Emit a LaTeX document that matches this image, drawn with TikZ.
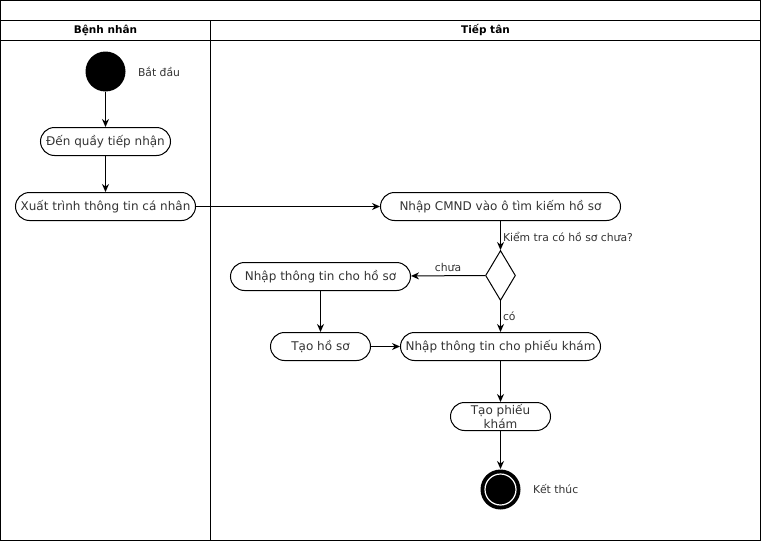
\documentclass[tikz,border=0pt]{standalone}
\usepackage{fontspec}
\setmainfont{DejaVu Sans}
\usepackage{tikz}
\usetikzlibrary{arrows.meta,positioning,shapes.geometric}
\definecolor{LaneLine}{HTML}{000000}
\definecolor{LaneText}{HTML}{333333}

\begin{document}
\begin{tikzpicture}[x=1pt,y=-1pt,line width=1pt,
  act/.style={draw,rounded corners=14pt,minimum height=28pt,inner sep=1pt,align=center,
    text=LaneText,font=\fontsize{12}{13.5}\selectfont},
  flow/.style={-{Stealth[length=8pt,width=7pt]}},
  lbl/.style={text=LaneText,font=\fontsize{10.8}{12}\selectfont,inner sep=1pt}]
  \useasboundingbox (-0.5,-0.5) rectangle (760.5,540.5);
  \def\actnode#1#2#3#4{
    \node[act,minimum width=#3] (#1) at #2 {#4};
  }
  \draw[LaneLine] (0,0) rectangle (760,540);
  \draw[LaneLine] (0,20) -- (760,20) (0,40) -- (760,40) (210,20) -- (210,540);
  \node[font=\fontsize{10.5}{12}\selectfont\bfseries] (lane1) at (105,30) {Bệnh nhân};
  \node[font=\fontsize{10.5}{12}\selectfont\bfseries] (lane2) at (485,30) {Tiếp tân};

  \node[circle,fill=black,minimum size=40pt,inner sep=0] (start) at (105,71) {};
  \node[lbl,anchor=west] (startlbl) at (136,71) {Bắt đầu};
  \actnode{den}{(105,141)}{130pt}{Đến quầy tiếp nhận}
  \actnode{xuat}{(105,206)}{180pt}{Xuất trình thông tin cá nhân}
  \actnode{cmnd}{(500,206)}{240pt}{Nhập CMND vào ô tìm kiếm hồ sơ}
  \node[draw,diamond,minimum width=30pt,minimum height=50pt,inner sep=0,aspect=0.6] (check) at (500,275) {};
  \actnode{nhaphs}{(320,276)}{180pt}{Nhập thông tin cho hồ sơ}
  \actnode{taohs}{(320,346)}{100pt}{Tạo hồ sơ}
  \actnode{nhappk}{(500,346)}{200pt}{Nhập thông tin cho phiếu khám}
  \actnode{taopk}{(500,416)}{100pt}{Tạo phiếu\\khám}
  \node[circle,fill=black,minimum size=40pt,inner sep=0] (stop) at (500,489) {};
  \node[circle,draw=white,fill=black,line width=1.2pt,minimum size=31pt,inner sep=0] (stopin) at (stop) {};
  \node[lbl,anchor=west] (stoplbl) at (531,489) {Kết thúc};

  \draw[flow] (start) -- (den);
  \draw[flow] (den) -- (xuat);
  \draw[flow] (xuat) -- (cmnd);
  \draw[flow] (cmnd) -- (check);
  \draw[flow] (check.west) -- (nhaphs) node[lbl,midway,above=3pt] {chưa};
  \draw[flow] (check.south) -- (nhappk) node[lbl,midway,right=1pt] {có};
  \draw[flow] (nhaphs) -- (taohs);
  \draw[flow] (taohs) -- (nhappk);
  \draw[flow] (nhappk) -- (taopk);
  \draw[flow] (taopk) -- (stop);
  \node[lbl,anchor=west] (checklbl) at (501,236) {Kiểm tra có hồ sơ chưa?};
\end{tikzpicture}
\end{document}
